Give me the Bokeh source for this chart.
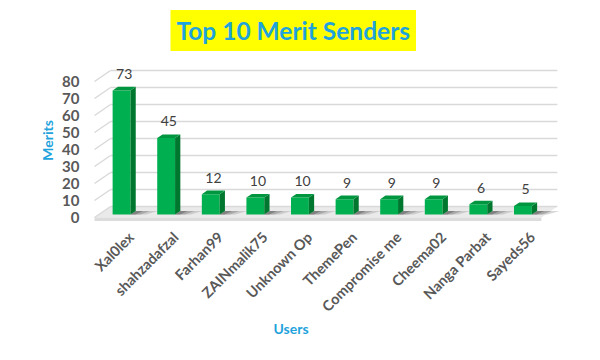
import math
from bokeh.plotting import figure
from bokeh.models import FixedTicker, Title
from bokeh.core.properties import value
from bokeh.embed import file_html
from bokeh.resources import INLINE

# ---- data ----
users = ["Xal0lex", "shahzadafzal", "Farhan99", "ZAINmalik75", "Unknown Op",
         "ThemePen", "Compromise me", "Cheema02", "Nanga Parbat", "Sayeds56"]
merits = [73, 45, 12, 10, 10, 9, 9, 9, 6, 5]
y_ticks = [0, 10, 20, 30, 40, 50, 60, 70, 80]

# ---- pseudo-3D geometry (data units) ----
DX, DY = 0.359, 6.47      # depth vector of the floor
Z0, ZS = 0.27, 0.33       # bar front depth and bar depth (fractions)
HW = 0.2                  # half bar width
XL_F = -0.509             # front-left of floor
XR_B = 9.87               # back-right of floor
LBL_SHIFT = 0.31          # rotated category label anchor shift

BLUE = "#1FA3DC"
GRAY = "#595959"

p = figure(width=596, height=356, x_range=(-0.644, 10.164), y_range=(-2.94, 93.53),
           output_backend="svg", toolbar_location=None,
           min_border_left=88, min_border_right=26, min_border_top=58, min_border_bottom=134)
p.outline_line_color = None
p.grid.visible = False
p.background_fill_color = "white"
p.border_fill_color = "white"

# title
p.title.text = "Top 10 Merit Senders"
p.title.align = "left"
p.title.offset = 82
p.title.text_font = "Lato"
p.title.text_font_style = "bold"
p.title.text_font_size = "24.5px"
p.title.text_color = BLUE
p.title.background_fill_color = "#FFFF00"
p.title.padding = 6
p.title.standoff = 15

# floor
p.patch([XL_F, XR_B - DX, XR_B, XL_F + DX], [0, 0, DY, DY], color="#EAEAEA", line_color=None)
p.patch([XL_F, XR_B - DX, XR_B - DX, XL_F], [0, 0, -2.0, -2.0], color="#DCDCDC", line_color=None)

# back wall gridlines and side diagonals
bx0 = [XL_F + DX for _ in y_ticks]
by = [v + DY for v in y_ticks]
p.segment(x0=bx0, y0=by, x1=[XR_B for _ in y_ticks], y1=by, line_color="#D9D9D9", line_width=1.5)
p.segment(x0=[XL_F for _ in y_ticks], y0=y_ticks, x1=bx0, y1=by, line_color="#D9D9D9", line_width=1.5)

# bars
xs_idx = list(range(len(users)))
left = [i + Z0 * DX - HW for i in xs_idx]
right = [i + Z0 * DX + HW for i in xs_idx]
base = Z0 * DY
top = [v + base for v in merits]

# shadows on floor
for ext, col, a in [(0.5, "#A6A6A6", 0.45), (0.32, "#7F7F7F", 0.45), (0.16, "#595959", 0.5)]:
    sx, sy = [], []
    for r in right:
        sx.append([r, r + ZS * DX, r + ZS * DX + ext, r + ext * 0.7])
        sy.append([base, base + ZS * DY, base + ZS * DY, base])
    p.patches(sx, sy, color=col, alpha=a, line_color=None)

p.quad(left=left, right=right, bottom=[base] * len(users), top=top,
       color="#00B050", line_color=None)
sidex, sidey, topx, topy = [], [], [], []
for l, r, t in zip(left, right, top):
    sidex.append([r, r, r + ZS * DX, r + ZS * DX])
    sidey.append([base, t, t + ZS * DY, base + ZS * DY])
    topx.append([l, r, r + ZS * DX, l + ZS * DX])
    topy.append([t, t, t + ZS * DY, t + ZS * DY])
p.patches(sidex, sidey, color="#00772F", line_color=None)
p.patches(topx, topy, color="#00963F", line_color=None)

# value labels
p.text(x=[i + (Z0 + ZS / 2) * DX for i in xs_idx], y=[t + ZS * DY for t in top],
       text=[str(v) for v in merits], text_align="center", text_baseline="bottom",
       y_offset=-8, text_font=value("Lato"), text_font_size="14px", text_color="#404040")

# axes
tick_pos = [i + LBL_SHIFT for i in xs_idx]
p.xaxis.ticker = FixedTicker(ticks=tick_pos)
p.xaxis.major_label_overrides = {t: u for t, u in zip(tick_pos, users)}
p.xaxis.major_label_orientation = math.pi / 4
p.xaxis.axis_line_color = None
p.xaxis.major_tick_line_color = None
p.xaxis.minor_tick_line_color = None
p.xaxis.major_label_standoff = 6
p.xaxis.major_label_text_font = "Lato"
p.xaxis.major_label_text_font_style = "bold"
p.xaxis.major_label_text_font_size = "14.5px"
p.xaxis.major_label_text_color = GRAY

p.yaxis.ticker = FixedTicker(ticks=y_ticks)
p.yaxis.axis_line_color = None
p.yaxis.major_tick_line_color = None
p.yaxis.minor_tick_line_color = None
p.yaxis.major_label_standoff = 3
p.yaxis.major_label_text_font = "Lato"
p.yaxis.major_label_text_font_style = "bold"
p.yaxis.major_label_text_font_size = "15px"
p.yaxis.major_label_text_color = GRAY
p.yaxis.axis_label = "Merits"
p.yaxis.axis_label_text_font = "Lato"
p.yaxis.axis_label_text_font_style = "bold"
p.yaxis.axis_label_text_font_size = "14px"
p.yaxis.axis_label_text_color = BLUE
p.yaxis.axis_label_standoff = 3

p.add_layout(Title(text="Users", align="left", offset=185, standoff=-11,
                   text_font="Lato", text_font_style="bold", text_font_size="14px",
                   text_color=BLUE), "below")

open("out.html", "w").write(file_html(p, INLINE))
